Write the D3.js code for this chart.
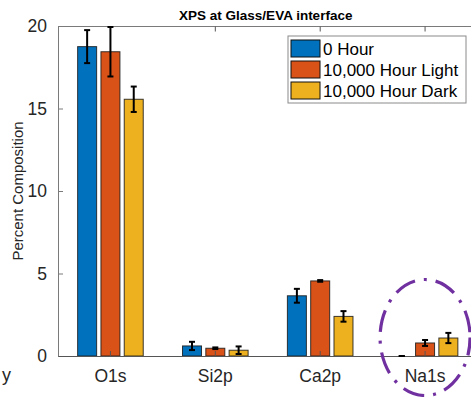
<!DOCTYPE html>
<html>
<head>
<meta charset="utf-8">
<script src="https://cdn.jsdelivr.net/npm/d3@7"></script>
<style>
  html, body { margin: 0; padding: 0; background: #fff; }
  svg { display: block; font-family: "Liberation Sans", Arial, Helvetica, sans-serif; }
</style>
</head>
<body>
<svg id="chart" width="471" height="397"></svg>
<script>
// XPS surface composition at the glass/EVA interface
const categories = ["O1s", "Si2p", "Ca2p", "Na1s"];
const seriesNames = ["0 Hour", "10,000 Hour Light", "10,000 Hour Dark"];
const seriesColors = ["#0072BD", "#D95319", "#EDB120"];

// mean percent composition per series, in category order
const hour0      = [18.75, 0.61, 3.65, 0.00];
const hourLight  = [18.44, 0.47, 4.55, 0.79];
const hourDark   = [15.56, 0.35, 2.40, 1.09];

// standard deviation per series, in category order
const hour0Err     = [1.00, 0.25, 0.42, 0.00];
const hourLightErr = [1.50, 0.05, 0.05, 0.18];
const hourDarkErr  = [0.77, 0.23, 0.32, 0.31];

const yTicks = [0, 5, 10, 15, 20];

const values = [hour0, hourLight, hourDark];
const errors = [hour0Err, hourLightErr, hourDarkErr];

const svg = d3.select("#chart");
const plot = { left: 58, right: 477.5, top: 26, bottom: 356 };
const axisColor = "#262626";

const x = d3.scaleBand().domain(categories).range([plot.left, plot.right]).padding(0);
const xOff = d3.scalePoint().domain(d3.range(seriesNames.length)).range([-23.3, 23.3]);
const barW = 19;
const y = d3.scaleLinear().domain([0, 20]).range([plot.bottom, plot.top]);
const cx = c => x(c) + x.bandwidth() / 2;

// axis box lines
const box = svg.append("g");
box.append("line").attr("x1", plot.left).attr("x2", plot.right)
  .attr("y1", plot.top + 0.5).attr("y2", plot.top + 0.5)
  .attr("stroke", "#7a7a7a").attr("stroke-width", 1);

// bars
const rows = [];
values.forEach((vals, s) => vals.forEach((v, i) => rows.push({ s, c: categories[i], v, e: errors[s][i] })));

svg.append("g").selectAll("rect").data(rows).join("rect")
  .attr("x", d => cx(d.c) + xOff(d.s) - barW / 2)
  .attr("width", barW)
  .attr("y", d => y(d.v))
  .attr("height", d => y(0) - y(d.v))
  .attr("fill", d => seriesColors[d.s])
  .attr("stroke", "#1a1a1a")
  .attr("stroke-opacity", 0.85)
  .attr("stroke-width", 1);

// y axis (ticks inside)
const yAxis = d3.axisLeft(y).tickValues(yTicks).tickSizeInner(-5).tickSizeOuter(0).tickPadding(11);
const gy = svg.append("g").attr("transform", `translate(${plot.left},0)`).call(yAxis);
gy.select(".domain").attr("stroke", "#7a7a7a");
gy.selectAll(".tick line").attr("stroke", "#7a7a7a");
gy.selectAll(".tick text").attr("fill", axisColor)
  .style("font-size", "17.5px").style("font-family", "Liberation Sans, Arial, sans-serif");

// x axis (ticks inside, labels below)
const xAxis = d3.axisBottom(x).tickSizeInner(-5).tickSizeOuter(0).tickPadding(14);
const gx = svg.append("g").attr("transform", `translate(0,${plot.bottom})`).call(xAxis);
gx.select(".domain").attr("stroke", "#555").attr("stroke-width", 1.2);
gx.selectAll(".tick line").attr("stroke", "#555");
gx.selectAll(".tick text").attr("fill", axisColor)
  .style("font-size", "17.5px").style("font-family", "Liberation Sans, Arial, sans-serif");

// mirrored ticks on the top edge
const xTop = d3.axisTop(x).tickSizeInner(-5).tickSizeOuter(0).tickFormat("");
const gt = svg.append("g").attr("transform", `translate(0,${plot.top + 0.5})`).call(xTop);
gt.select(".domain").remove();
gt.selectAll(".tick line").attr("stroke", "#555");

// error bars
const eg = svg.append("g").attr("stroke", "#000").attr("stroke-width", 2).attr("fill", "none");
rows.forEach(d => {
  const px = cx(d.c) + xOff(d.s);
  const y1 = y(d.v + d.e), y0 = y(Math.max(0, d.v - d.e));
  eg.append("line").attr("x1", px).attr("x2", px).attr("y1", y1).attr("y2", y0);
  eg.append("line").attr("x1", px - 3).attr("x2", px + 3).attr("y1", y1).attr("y2", y1);
  eg.append("line").attr("x1", px - 3).attr("x2", px + 3).attr("y1", y0).attr("y2", y0);
});

// title
svg.append("text")
  .attr("x", (plot.left + plot.right) / 2 - 2).attr("y", 20)
  .attr("text-anchor", "middle")
  .style("font-size", "13.5px").style("font-weight", "bold")
  .attr("fill", "#000")
  .text("XPS at Glass/EVA interface");

// y label
svg.append("text")
  .attr("transform", `translate(23,${(plot.top + plot.bottom) / 2}) rotate(-90)`)
  .attr("text-anchor", "middle")
  .style("font-size", "15px")
  .attr("fill", axisColor)
  .text("Percent Composition");

// legend
const lg = svg.append("g").attr("transform", "translate(288,36)");
lg.append("rect").attr("x", 0).attr("y", 0).attr("width", 178).attr("height", 67)
  .attr("fill", "#fff").attr("stroke", "#8a8a8a").attr("stroke-width", 1);
seriesNames.forEach((name, i) => {
  const row = lg.append("g").attr("transform", `translate(0,${4 + i * 21})`);
  row.append("rect").attr("x", 3).attr("y", 0).attr("width", 29).attr("height", 17)
    .attr("fill", seriesColors[i]).attr("stroke", "#111").attr("stroke-width", 1);
  row.append("text").attr("x", 35).attr("y", 14.5)
    .style("font-size", "17px").attr("fill", "#000").text(name);
});

// highlight around the Na1s group
svg.append("ellipse")
  .attr("cx", cx("Na1s")).attr("cy", 337.5).attr("rx", 45).attr("ry", 58)
  .attr("fill", "none").attr("stroke", "#7030A0").attr("stroke-width", 3.2)
  .attr("stroke-dasharray", "22 9 3 9").attr("stroke-dashoffset", 4);

// clipped label fragment at the lower left
svg.append("text").attr("x", 11).attr("y", 381).attr("text-anchor", "end")
  .style("font-size", "18px").attr("fill", axisColor).text("y");
</script>
</body>
</html>
